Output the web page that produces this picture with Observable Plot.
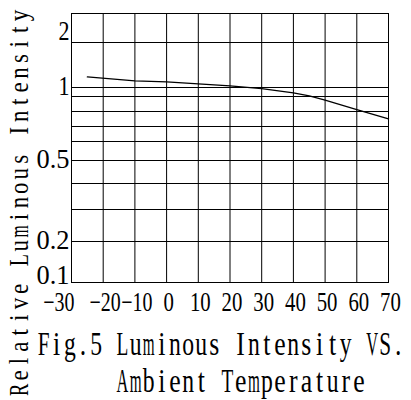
<!DOCTYPE html>
<html>
<head>
<meta charset="utf-8">
<script src="https://cdn.jsdelivr.net/npm/d3@7"></script>
<script src="https://cdn.jsdelivr.net/npm/@observablehq/plot@0.6"></script>
<style>
  html, body { margin: 0; padding: 0; background: #fff; }
  svg text { font-family: "Liberation Serif", "DejaVu Serif", serif; }
</style>
</head>
<body>
<div id="chart"></div>
<script>
// ---- data ----
const xTicks = [-30, -20, -10, 0, 10, 20, 30, 40, 50, 60, 70];
const yGrid = [0.1, 0.2, 0.3, 0.4, 0.5, 0.6, 0.7, 0.8, 0.9, 1, 1.5];
const yTickLabels = [0.2, 0.5, 1, 2];
const yBottomLabel = [0.1];
const temperature = [-25, -10, 0, 10, 20, 30, 40, 45, 50, 60, 70];
const intensity = [1.117, 1.074, 1.063, 1.041, 1.017, 0.988, 0.94, 0.908, 0.876, 0.813, 0.751];
const yLabel = "Relative Luminous Intensity";
const captionLines = ["Fig.5 Luminous Intensity VS.", "      Ambient Temperature"];

// the reference's hand-drawn, irregular (roughly logarithmic) vertical scale
const yBreaks = [0.1, 0.2, 0.3, 0.4, 0.5, 0.6, 0.7, 0.8, 0.9, 1, 1.5, 2, 3];
const yBreakPixels = [282, 241, 209, 183, 160, 141, 126, 111, 96, 87, 42, 32, 13];

const curve = temperature.map((t, i) => ({t, v: intensity[i]}));

const tickFont = {fontSize: 27};

const chart = Plot.plot({
  width: 411,
  height: 400,
  marginLeft: 71,
  marginRight: 23,
  marginTop: 13,
  marginBottom: 118,
  style: {fontFamily: "Liberation Serif", fontSize: "27px", color: "#000", background: "#fff"},
  x: {domain: [-30, 70]},
  y: {type: "linear", domain: yBreaks, range: yBreakPixels},
  marks: [
    Plot.ruleY(yGrid, {x1: -30, x2: 70, stroke: "#000", strokeWidth: 1}),
    Plot.ruleX(xTicks, {y1: 0.1, y2: 3, stroke: "#000", strokeWidth: 1}),
    Plot.frame({stroke: "#000", strokeWidth: 1}),
    Plot.line(curve, {x: "t", y: "v", stroke: "#000", strokeWidth: 1.3}),
    Plot.axisX(xTicks.slice(0, 1), {tickSize: 0, tickPadding: 9, textAnchor: "end", dx: 3, label: null, ...tickFont}),
    Plot.axisX(xTicks.slice(1), {tickSize: 0, tickPadding: 9, dx: 2, label: null, ...tickFont}),
    Plot.axisY(yTickLabels, {tickSize: 0, tickPadding: 2, dy: -1, label: null, ...tickFont, tickFormat: d => String(d)}),
    Plot.axisY(yBottomLabel, {tickSize: 0, tickPadding: 2, dy: -7, label: null, ...tickFont, tickFormat: d => String(d)})
  ]
});

document.getElementById("chart").appendChild(chart);

// narrow, tall digits, as in the reference
chart.querySelectorAll('[aria-label="x-axis tick label"] text').forEach(t => {
  t.setAttribute("textLength", t.textContent.length * 10.4);
  t.setAttribute("lengthAdjust", "spacingAndGlyphs");
});
chart.querySelectorAll('[aria-label="y-axis tick label"] text').forEach(t => {
  t.setAttribute("textLength", t.textContent.length * 11);
  t.setAttribute("lengthAdjust", "spacingAndGlyphs");
});

const svg = d3.select(chart);

// monospaced text: the whole line is condensed, and every character sits in its own cell
function monoText(parent, str, {x, y, rotate = 0, cell, fontSize, sx, fill, maxFill}) {
  const probe = parent.append("text").attr("font-size", fontSize).attr("x", -999).attr("y", -999);
  const text = parent.append("text")
    .attr("transform", `translate(${x},${y})${rotate ? ` rotate(${rotate})` : ""} scale(${sx},1)`)
    .attr("text-anchor", "start")
    .attr("font-size", fontSize)
    .attr("fill", "#000")
    .attr("xml:space", "preserve")
    .style("white-space", "pre");
  Array.from(str).forEach((ch, i) => {
    const tspan = text.append("tspan").attr("y", 0).text(ch);
    if (ch === " ") {
      tspan.attr("x", ((i * cell) / sx).toFixed(2));
      return;
    }
    probe.text(ch);
    const w = probe.node().getComputedTextLength();      // natural width
    const target = Math.min(w * fill, cell * maxFill);    // on-screen width
    tspan
      .attr("x", ((i * cell + (cell - target) / 2) / sx).toFixed(2))
      .attr("textLength", (target / sx).toFixed(2))
      .attr("lengthAdjust", "spacingAndGlyphs");
  });
  probe.remove();
}

monoText(svg, yLabel, {x: 28, y: 397, rotate: -90, cell: 14.4, fontSize: 27, sx: 0.5, fill: 0.85, maxFill: 0.85});
captionLines.forEach((line, i) => {
  monoText(svg, line, {x: 37, y: 355 + i * 37, cell: 13.14, fontSize: 33, sx: 0.5, fill: 0.78, maxFill: 0.9});
});
</script>
</body>
</html>
